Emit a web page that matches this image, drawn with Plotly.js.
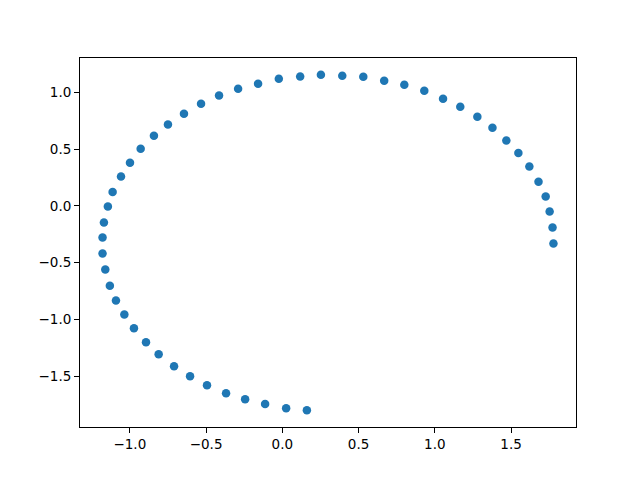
<!DOCTYPE html>
<html>
<head>
<meta charset="utf-8">
<script src="https://cdn.plot.ly/plotly-3.0.1.min.js"></script>
<style>html,body{margin:0;padding:0;background:#fff;}#chart{width:640px;height:480px;}</style>
</head>
<body>
<div id="chart"></div>
<script>
const xValues = [0.161, 0.025, -0.113, -0.244, -0.369, -0.494, -0.605, -0.710, -0.811, -0.894,
  -0.973, -1.036, -1.091, -1.131, -1.161, -1.179, -1.179, -1.170, -1.144, -1.113,
  -1.058, -0.999, -0.929, -0.842, -0.750, -0.645, -0.533, -0.415, -0.290, -0.159,
  -0.023, 0.117, 0.253, 0.393, 0.531, 0.668, 0.800, 0.931, 1.054, 1.167,
  1.279, 1.378, 1.469, 1.548, 1.620, 1.680, 1.727, 1.753, 1.772, 1.778];
const yValues = [-1.801, -1.783, -1.746, -1.704, -1.651, -1.581, -1.502, -1.414, -1.308, -1.202,
  -1.079, -0.956, -0.833, -0.704, -0.560, -0.419, -0.278, -0.146, -0.005, 0.123,
  0.259, 0.382, 0.505, 0.620, 0.719, 0.813, 0.901, 0.974, 1.033, 1.077,
  1.121, 1.142, 1.157, 1.148, 1.139, 1.104, 1.069, 1.016, 0.945, 0.875,
  0.787, 0.690, 0.578, 0.468, 0.348, 0.213, 0.084, -0.049, -0.189, -0.331];

function padRange(arr) {
  const mn = Math.min(...arr), mx = Math.max(...arr);
  const m = (mx - mn) * 0.05;
  return [mn - m, mx + m];
}

const axisCommon = {
  showgrid: false, zeroline: false, showline: true, mirror: true,
  linecolor: 'black', linewidth: 1,
  ticks: 'outside', ticklen: 5, tickwidth: 1, tickcolor: 'black',
  tickmode: 'linear', tick0: 0, dtick: 0.5, tickformat: '.1f',
  tickfont: {family: 'DejaVu Sans', size: 13.5, color: 'black'}
};

const data = [{
  type: 'scatter', mode: 'markers',
  x: xValues, y: yValues,
  marker: {color: '#1f77b4', size: 8.5, line: {width: 0}}
}];

const layout = {
  width: 640, height: 480,
  margin: {l: 80, r: 64, t: 58, b: 53},
  paper_bgcolor: 'white', plot_bgcolor: 'white',
  showlegend: false,
  xaxis: Object.assign({}, axisCommon, {range: padRange(xValues)}),
  yaxis: Object.assign({}, axisCommon, {range: padRange(yValues)})
};

Plotly.newPlot('chart', data, layout, {displayModeBar: false, staticPlot: true});
</script>
</body>
</html>
